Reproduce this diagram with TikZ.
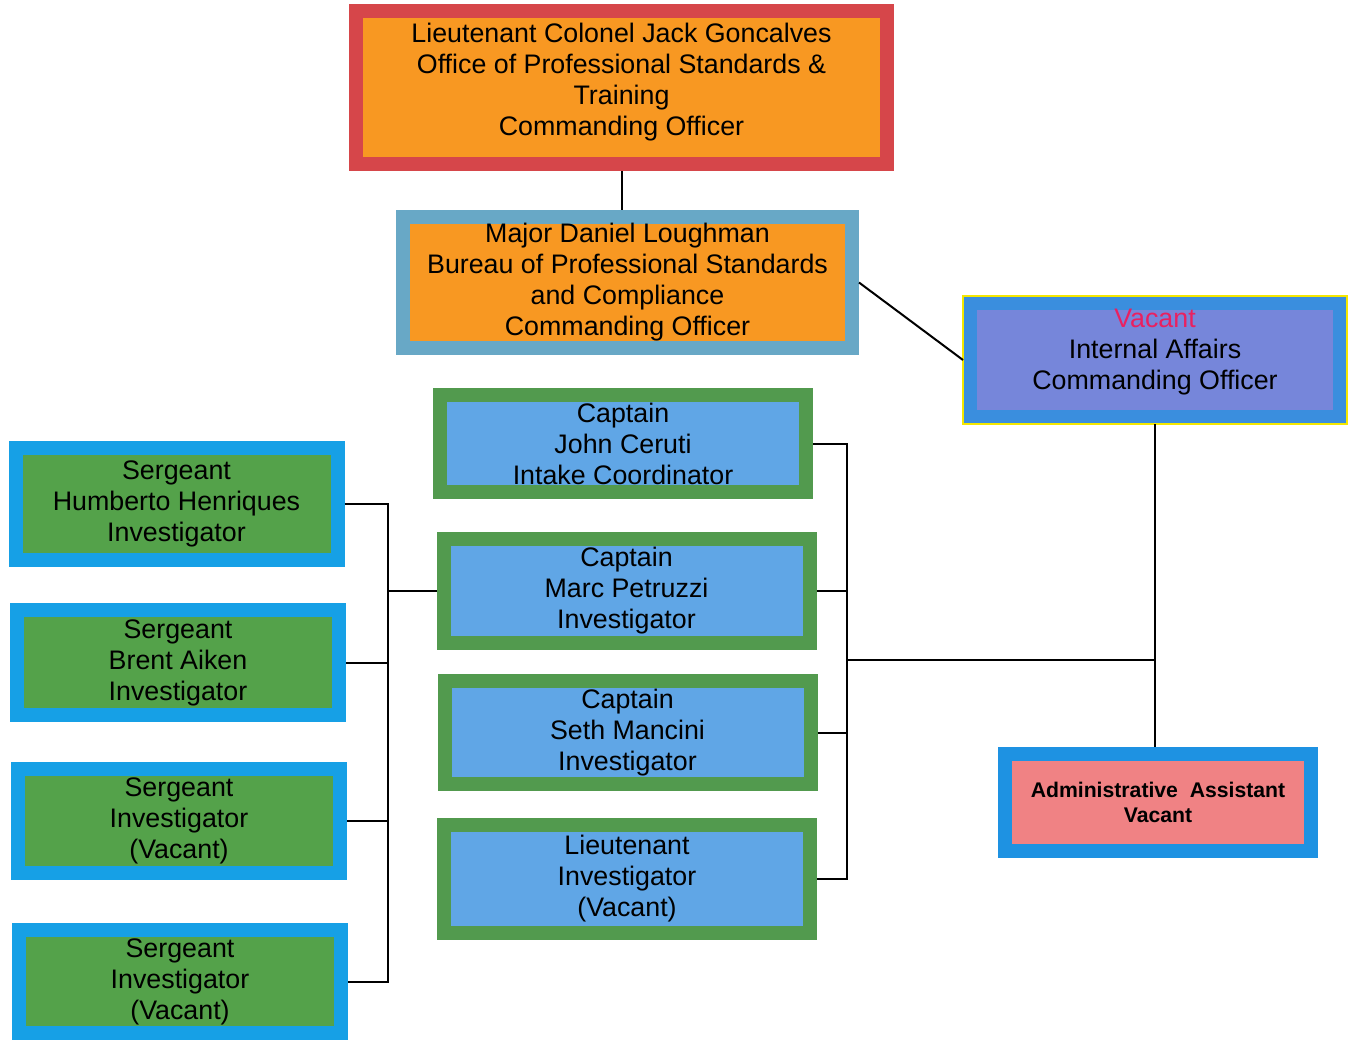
\documentclass[tikz,border=0pt]{standalone}
\usepackage{fontspec}
\setmainfont{Liberation Sans}
\definecolor{cored}{RGB}{214,70,74}
\definecolor{coorange}{RGB}{248,152,34}
\definecolor{majblue}{RGB}{104,168,198}
\definecolor{iablue}{RGB}{58,142,222}
\definecolor{ialav}{RGB}{118,134,218}
\definecolor{admblue}{RGB}{30,146,226}
\definecolor{admpink}{RGB}{240,130,132}
\definecolor{sgtblue}{RGB}{22,160,230}
\definecolor{sgtgreen}{RGB}{84,162,74}
\definecolor{captgreen}{RGB}{82,154,78}
\definecolor{captblue}{RGB}{96,166,230}
\definecolor{vacred}{RGB}{234,32,96}
\begin{document}
\begin{tikzpicture}[x=0.5pt,y=-0.5pt,
  box/.style={line width=7pt,inner sep=0pt,align=center,font=\fontsize{13.4}{15.5}\selectfont},
  sgt/.style={box,draw=sgtblue,fill=sgtgreen,minimum width=161pt},
  capt/.style={box,draw=captgreen,fill=captblue,minimum width=183pt},
  link/.style={line width=1pt}]
\useasboundingbox (0,0) rectangle (1353,1040);
% command staff
\node[box,draw=cored,fill=coorange,minimum width=265.5pt,minimum height=76.5pt] (lc) at (621.5,87.5)
  {Lieutenant Colonel Jack Goncalves\\Office of Professional Standards \&\\Training\\Commanding Officer\\[-7pt]};
\node[box,draw=majblue,fill=coorange,minimum width=224.5pt,minimum height=65.5pt] (maj) at (627.5,282.5)
  {Major Daniel Loughman\\Bureau of Professional Standards\\and Compliance\\Commanding Officer};
\node[box,draw=iablue,fill=ialav,minimum width=185pt,minimum height=57pt] (ia) at (1155,360)
  {\textcolor{vacred}{Vacant}\\Internal Affairs\\Commanding Officer\\[-5pt]};
\draw[yellow!90!olive,line width=0.8pt] (ia.north west) rectangle (ia.south east);
\node[box,draw=admblue,fill=admpink,minimum width=153pt,minimum height=48.5pt,
  font=\fontsize{10.6}{12.5}\selectfont\bfseries] (adm) at (1158,802.5)
  {Administrative\ \ Assistant\\Vacant};
% captains
\node[capt,minimum height=48.5pt] (c1) at (623,443.5) {Captain\\John Ceruti\\Intake Coordinator};
\node[capt,minimum height=52pt] (c2) at (626.5,591) {Captain\\Marc Petruzzi\\Investigator};
\node[capt,minimum height=51.5pt] (c3) at (627.5,732.5) {Captain\\Seth Mancini\\Investigator};
\node[capt,minimum height=54pt] (lt) at (627,879) {Lieutenant\\Investigator\\(Vacant)};
% sergeants
\node[sgt,minimum height=56pt] (s1) at (176.5,504) {Sergeant\\Humberto Henriques\\Investigator};
\node[sgt,minimum height=52.5pt] (s2) at (178,662.5) {Sergeant\\Brent Aiken\\Investigator};
\node[sgt,minimum height=52pt] (s3) at (179,821) {Sergeant\\Investigator\\(Vacant)};
\node[sgt,minimum height=51.5pt] (s4) at (180,981.5) {Sergeant\\Investigator\\(Vacant)};
% connectors
\coordinate (rbus) at (847,660);
\coordinate (lbus) at (388,581);
\draw[link] (lc.south) -- (lc.south |- maj.north);
\draw[link] (maj.east) -- (ia.west);
\draw[link] (ia.south) -- (ia.south |- adm.north);
\draw[link] (rbus) -- (rbus -| ia.south);
\draw[link] (c1.east) -- (c1.east -| rbus) -- (lt.east -| rbus) -- (lt.east);
\draw[link] (c2.east) -- (c2.east -| rbus) (c3.east) -- (c3.east -| rbus);
\draw[link] (s1.east) -- (s1.east -| lbus) -- (s4.east -| lbus) -- (s4.east);
\draw[link] (s2.east) -- (s2.east -| lbus) (s3.east) -- (s3.east -| lbus);
\draw[link] (c2.west -| lbus) -- (c2.west);
\end{tikzpicture}
\end{document}
